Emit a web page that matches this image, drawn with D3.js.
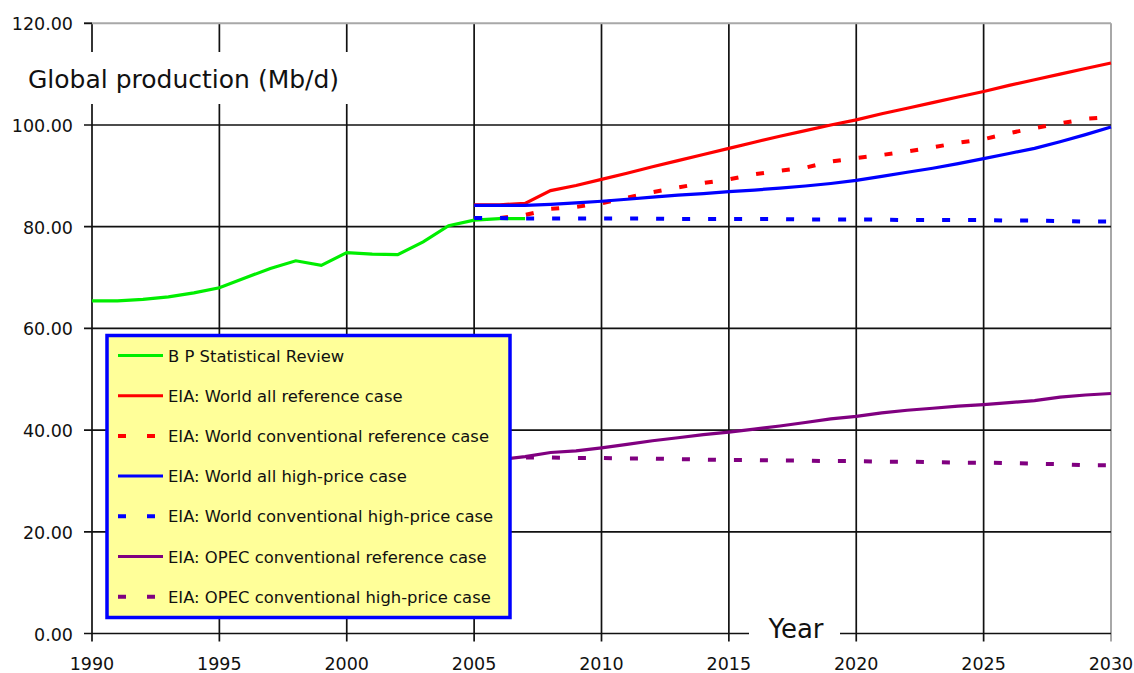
<!DOCTYPE html>
<html>
<head>
<meta charset="utf-8">
<script src="https://cdn.jsdelivr.net/npm/d3@7"></script>
<style>
  html, body { margin: 0; padding: 0; background: #fff; }
  svg { display: block; font-family: "DejaVu Sans", sans-serif; }
</style>
</head>
<body>
<svg id="chart" width="1134" height="673"></svg>
<script>
// ---- data ----
const bpYears  = [1990,1991,1992,1993,1994,1995,1996,1997,1998,1999,2000,2001,2002,2003,2004,2005,2006,2007];
const bpValues = [65.4,65.4,65.7,66.2,67.0,68.0,69.9,71.8,73.3,72.4,74.9,74.6,74.5,77.0,80.2,81.3,81.6,81.6];

const eiaYears = [2005,2006,2007,2008,2009,2010,2011,2012,2013,2014,2015,2016,2017,2018,2019,2020,2021,2022,2023,2024,2025,2026,2027,2028,2029,2030];
const worldAllRef   = [84.3,84.3,84.6,87.1,88.1,89.3,90.5,91.8,93.0,94.2,95.4,96.6,97.8,98.9,100.0,101.0,102.2,103.3,104.4,105.5,106.6,107.8,108.9,110.0,111.1,112.2];
const worldConvRef  = [81.5,81.7,82.3,83.5,83.9,84.6,85.7,86.8,87.7,88.6,89.3,90.3,91.0,91.6,92.8,93.5,94.1,94.8,95.6,96.5,97.2,98.4,99.4,100.3,101.2,101.6];
const worldAllHigh  = [84.2,84.2,84.2,84.4,84.7,85.0,85.4,85.8,86.2,86.5,86.9,87.2,87.6,88.0,88.5,89.1,89.9,90.7,91.5,92.4,93.4,94.4,95.4,96.7,98.1,99.6];
const worldConvHigh = [81.7,81.7,81.6,81.6,81.6,81.6,81.6,81.6,81.5,81.5,81.5,81.5,81.5,81.4,81.4,81.4,81.4,81.3,81.3,81.3,81.3,81.2,81.2,81.1,81.0,81.0];
const opecConvRef   = [33.8,34.2,34.8,35.6,35.9,36.5,37.2,37.9,38.5,39.1,39.6,40.2,40.8,41.5,42.2,42.7,43.4,43.9,44.3,44.7,45.0,45.4,45.8,46.5,46.9,47.2];
const opecConvHigh  = [33.8,34.3,34.6,34.6,34.5,34.5,34.4,34.4,34.3,34.2,34.1,34.1,34.0,34.0,33.9,33.9,33.8,33.8,33.7,33.6,33.6,33.5,33.4,33.3,33.1,33.1];

const xTicks = [1990,1995,2000,2005,2010,2015,2020,2025,2030];
const yTicks = [0,20,40,60,80,100,120];
const legendLabels = [
  "B P  Statistical Review",
  "EIA: World all reference case",
  "EIA: World conventional reference case",
  "EIA: World all high-price case",
  "EIA: World conventional high-price case",
  "EIA: OPEC conventional reference case",
  "EIA: OPEC conventional high-price case"
];

// ---- layout ----
const svg = d3.select("#chart");
const x = d3.scaleLinear().domain([1990, 2030]).range([92, 1111]);
const y = d3.scaleLinear().domain([0, 120]).range([633.5, 23.3]);

// grid
const grid = svg.append("g");
grid.selectAll("line.v").data(xTicks).join("line")
  .attr("x1", d => x(d)).attr("x2", d => x(d))
  .attr("y1", y(120)).attr("y2", y(0) + 8)
  .attr("stroke", d => d === 2030 ? "#a8a8a8" : "#111")
  .attr("stroke-width", d => d === 2030 ? 2 : 1.7);
grid.selectAll("line.h").data(yTicks).join("line")
  .attr("x1", x(1990) - 8).attr("x2", x(2030))
  .attr("y1", d => y(d)).attr("y2", d => y(d))
  .attr("stroke", d => d === 120 ? "#a8a8a8" : "#111")
  .attr("stroke-width", d => d === 120 ? 2 : 1.7);
grid.append("line").attr("x1", x(1990) - 8).attr("x2", x(1990))
  .attr("y1", y(120)).attr("y2", y(120)).attr("stroke", "#111").attr("stroke-width", 1.7);

// axis labels
svg.append("g").selectAll("text").data(yTicks).join("text")
  .attr("x", 73).attr("y", d => y(d) + 7)
  .attr("text-anchor", "end")
  .attr("font-size", 17.5).attr("fill", "#111")
  .text(d => d3.format(".2f")(d));
svg.append("g").selectAll("text").data(xTicks).join("text")
  .attr("x", d => x(d)).attr("y", 670)
  .attr("text-anchor", "middle")
  .attr("font-size", 17.5).attr("fill", "#111")
  .text(d => d);

// title with white background
svg.append("rect").attr("x", 20).attr("y", 52).attr("width", 328).attr("height", 52).attr("fill", "#fff");
svg.append("text").attr("x", 28).attr("y", 88).attr("font-size", 25).attr("fill", "#111")
  .text("Global production (Mb/d)");
svg.append("rect").attr("x", 749).attr("y", 612).attr("width", 91).attr("height", 34).attr("fill", "#fff");
svg.append("text").attr("x", 796).attr("y", 638).attr("text-anchor", "middle").attr("font-size", 26).attr("fill", "#111")
  .text("Year");

// series
const line = d3.line().x(d => x(d[0])).y(d => y(d[1]));
const zip = (xs, vs) => xs.map((v, i) => [v, vs[i]]);
const series = [
  {data: zip(eiaYears, opecConvHigh), color: "#800080", dash: "8,18", width: 4},
  {data: zip(eiaYears, opecConvRef), color: "#800080", dash: null, width: 3.2},
  {data: zip(eiaYears, worldConvRef), color: "#ff0000", dash: "8,18", width: 4},
  {data: zip(eiaYears, worldAllRef), color: "#ff0000", dash: null, width: 3.2},
  {data: zip(bpYears, bpValues), color: "#00ee00", dash: null, width: 3.2},
  {data: zip(eiaYears, worldConvHigh), color: "#0000ff", dash: "8,18", width: 4},
  {data: zip(eiaYears, worldAllHigh), color: "#0000ff", dash: null, width: 3.2}
];
svg.append("g").selectAll("path").data(series).join("path")
  .attr("d", d => line(d.data))
  .attr("fill", "none")
  .attr("stroke", d => d.color)
  .attr("stroke-width", d => d.width)
  .attr("stroke-dasharray", d => d.dash);

// legend
const legend = svg.append("g");
legend.append("rect").attr("x", 107).attr("y", 335.5).attr("width", 403).attr("height", 282)
  .attr("fill", "#ffff99").attr("stroke", "#0000ff").attr("stroke-width", 3.5);
const legItems = [
  {color: "#00ee00", dash: null},
  {color: "#ff0000", dash: null},
  {color: "#ff0000", dash: "8,21"},
  {color: "#0000ff", dash: null},
  {color: "#0000ff", dash: "8,21"},
  {color: "#800080", dash: null},
  {color: "#800080", dash: "8,21"}
];
const lg = legend.selectAll("g").data(legendLabels).join("g")
  .attr("transform", (d, i) => `translate(0, ${355.5 + i * 40.2})`);
lg.append("line").attr("x1", 118).attr("x2", 163).attr("y1", 0).attr("y2", 0)
  .attr("stroke", (d, i) => legItems[i].color)
  .attr("stroke-width", (d, i) => legItems[i].dash ? 4 : 3)
  .attr("stroke-dasharray", (d, i) => legItems[i].dash);
lg.append("text").attr("x", 168).attr("y", 6).attr("font-size", 16.4).attr("fill", "#111")
  .text(d => d);
</script>
</body>
</html>
